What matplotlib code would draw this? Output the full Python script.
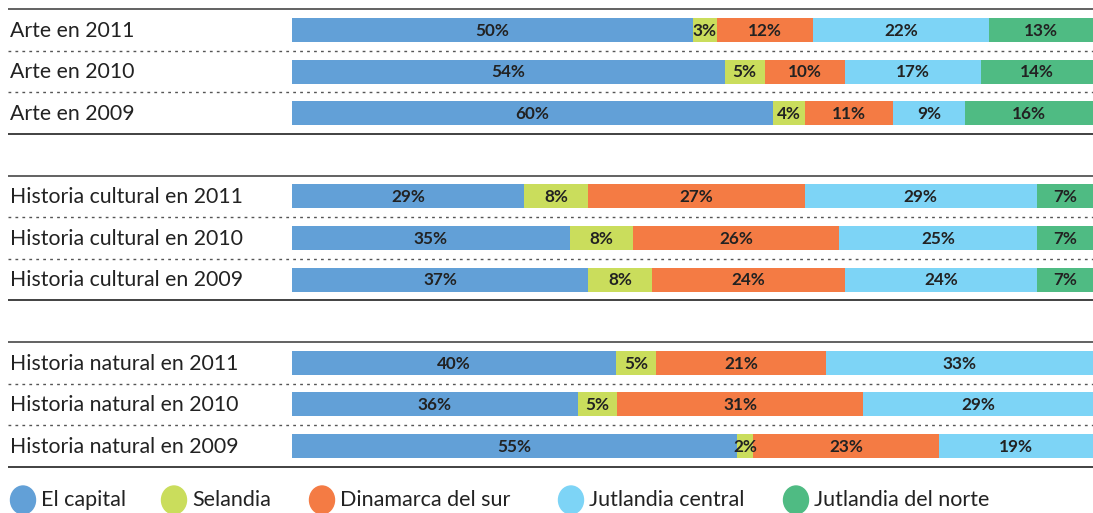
import matplotlib
matplotlib.use("Agg")
import matplotlib.pyplot as plt
import numpy as np

rows = ["Arte en 2011", "Arte en 2010", "Arte en 2009",
        "Historia cultural en 2011", "Historia cultural en 2010", "Historia cultural en 2009",
        "Historia natural en 2011", "Historia natural en 2010", "Historia natural en 2009"]
regions = ["El capital", "Selandia", "Dinamarca del sur", "Jutlandia central", "Jutlandia del norte"]
el_capital = [50, 54, 60, 29, 35, 37, 40, 36, 55]
selandia = [3, 5, 4, 8, 8, 8, 5, 5, 2]
dinamarca_sur = [12, 10, 11, 27, 26, 24, 21, 31, 23]
jutlandia_central = [22, 17, 9, 29, 25, 24, 33, 29, 19]
jutlandia_norte = [13, 14, 16, 7, 7, 7, 0, 0, 0]
colors = ["#62a0d7", "#cadd5c", "#f47b44", "#7dd4f6", "#4fbb83"]

series = np.array([el_capital, selandia, dinamarca_sur, jutlandia_central, jutlandia_norte], dtype=float)
totals = series.sum(axis=0)
shares = series / totals * 100

W, H = 1093, 513
fig = plt.figure(figsize=(W / 100, H / 100), dpi=100)
ax = fig.add_axes([0, 0, 1, 1])
ax.axis("off")

x0_px = 292
px_per_unit = (W - x0_px) / 100.0
ax.set_xlim(-x0_px / px_per_unit, 100)
row_h = 41.6
y0_px = 30
ax.set_ylim((H - y0_px) / row_h, -y0_px / row_h)

ypos = [0, 1, 2, 4, 5, 6, 8, 9, 10]
bar_h = 24 / row_h

font = "Lato"
left = np.zeros(len(rows))
for i in range(len(regions)):
    w = shares[i]
    ax.barh(ypos, w, left=left, height=bar_h, color=colors[i], linewidth=0)
    for j in range(len(rows)):
        if series[i][j] > 0:
            ax.text(left[j] + w[j] / 2, ypos[j] + 0.02, f"{int(series[i][j])}%",
                    ha="center", va="center", fontsize=12.3, fontweight="bold",
                    color="#222222", family=font)
    left = left + w

xl = ax.get_xlim()
lx0 = xl[0] + 8 / px_per_unit
for g in range(3):
    ys = ypos[g * 3:(g + 1) * 3]
    ax.plot([lx0, 100], [ys[0] - 0.5, ys[0] - 0.5], color="#555555", lw=1.3, solid_capstyle="butt")
    ax.plot([lx0, 100], [ys[-1] + 0.5, ys[-1] + 0.5], color="#333333", lw=1.3, solid_capstyle="butt")
    for y in ys[:-1]:
        ax.plot([lx0, 100], [y + 0.5, y + 0.5], color="#555555", lw=1.0, ls=(0, (2, 3)))

for j, r in enumerate(rows):
    ax.text(xl[0] + 10 / px_per_unit, ypos[j] + 0.02, r, ha="left", va="center",
            fontsize=15.3, color="#222222", family=font)

leg_circle_x = [23, 174, 322, 571, 796]
leg_y = 1 - 500 / H
for k, name in enumerate(regions):
    fig.patches.append(matplotlib.patches.Ellipse((leg_circle_x[k] / W, leg_y), 25 / W, 28 / H,
                                                   transform=fig.transFigure, color=colors[k]))
    fig.text((leg_circle_x[k] + 18) / W, leg_y, name, ha="left", va="center",
             fontsize=15.5, color="#222222", family=font)

fig.savefig("out.png", dpi=100)
